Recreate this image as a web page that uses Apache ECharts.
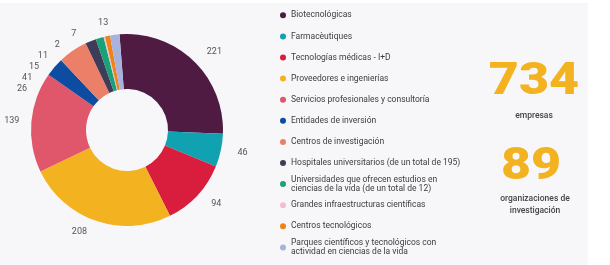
<!DOCTYPE html>
<html>
<head>
<meta charset="utf-8">
<script src="https://cdn.jsdelivr.net/npm/echarts@6/dist/echarts.min.js"></script>
<style>
html,body{margin:0;padding:0;background:#fff;}
#c{width:610px;height:265px;}
</style>
</head>
<body>
<div id="c"></div>
<script>
const categories = [
  "Biotecnológicas",
  "Farmacèutiques",
  "Tecnologías médicas - I+D",
  "Proveedores e ingenierías",
  "Servicios profesionales y consultoría",
  "Entidades de inversión",
  "Centros de investigación",
  "Hospitales universitarios (de un total de 195)",
  "Universidades que ofrecen estudios en\nciencias de la vida (de un total de 12)",
  "Grandes infraestructuras científicas",
  "Centros tecnológicos",
  "Parques científicos y tecnológicos con\nactividad en ciencias de la vida"
];
const values = [221, 46, 94, 208, 139, 26, 41, 15, 11, 2, 7, 13];
const colors = ["#4f1b43", "#10a2b0", "#d81e3c", "#f3b21f", "#e0566a", "#0d4ca0",
                "#ec7f68", "#3e3c58", "#17a27a", "#f1bfd1", "#ee8418", "#a9b2dc"];
const totalCompanies = "734";
const companiesLabel = "empresas";
const totalResearch = "89";
const researchLabel = "organizaciones de\ninvestigación";

const chart = echarts.init(document.getElementById('c'), null, {renderer: 'canvas'});
const font = 'Roboto, "Noto Sans", sans-serif';

const legendItems = [];
categories.forEach((name, i) => {
  const cy = 15.3 + i * 21.1;
  legendItems.push({type: 'circle', z: 10, shape: {cx: 283, cy: cy, r: 3}, style: {fill: colors[i]}});
  legendItems.push({type: 'text', z: 10, x: 291, y: cy, style: {text: name, font: '8.5px ' + font, fill: '#3d3d3d', verticalAlign: 'middle', align: 'left', lineHeight: 9}});
});

chart.setOption({
  backgroundColor: '#ffffff',
  animation: false,
  color: colors,
  graphic: [
    {type: 'rect', z: -10, shape: {x: 0, y: 3, width: 588, height: 262}, style: {fill: '#f7f7f9'}},
    {type: 'text', z: 10, x: 534, y: 83, scaleX: 1.18, style: {text: totalCompanies, font: '900 44px Roboto, sans-serif', fill: '#f3b21f', align: 'center', verticalAlign: 'middle'}},
    {type: 'text', z: 10, x: 534, y: 116, style: {text: companiesLabel, font: '500 8.5px ' + font, fill: '#444', align: 'center', verticalAlign: 'middle'}},
    {type: 'text', z: 10, x: 531, y: 168, scaleX: 1.18, style: {text: totalResearch, font: '900 44px Roboto, sans-serif', fill: '#f3b21f', align: 'center', verticalAlign: 'middle'}},
    {type: 'text', z: 10, x: 535, y: 205, style: {text: researchLabel, font: '500 8.5px ' + font, fill: '#444', align: 'center', verticalAlign: 'middle', lineHeight: 12}}
  ].concat(legendItems),
  series: [{
    type: 'pie',
    center: [127, 130],
    radius: [41, 96],
    startAngle: 94.5,
    clockwise: true,
    avoidLabelOverlap: true,
    label: {show: true, position: 'outside', formatter: '{c}', fontSize: 9, color: '#555', fontFamily: font, overflow: 'none'},
    labelLine: {show: false, length: 12, length2: 0},
    data: categories.map((n, i) => ({name: n, value: values[i]}))
  }]
});
</script>
</body>
</html>
